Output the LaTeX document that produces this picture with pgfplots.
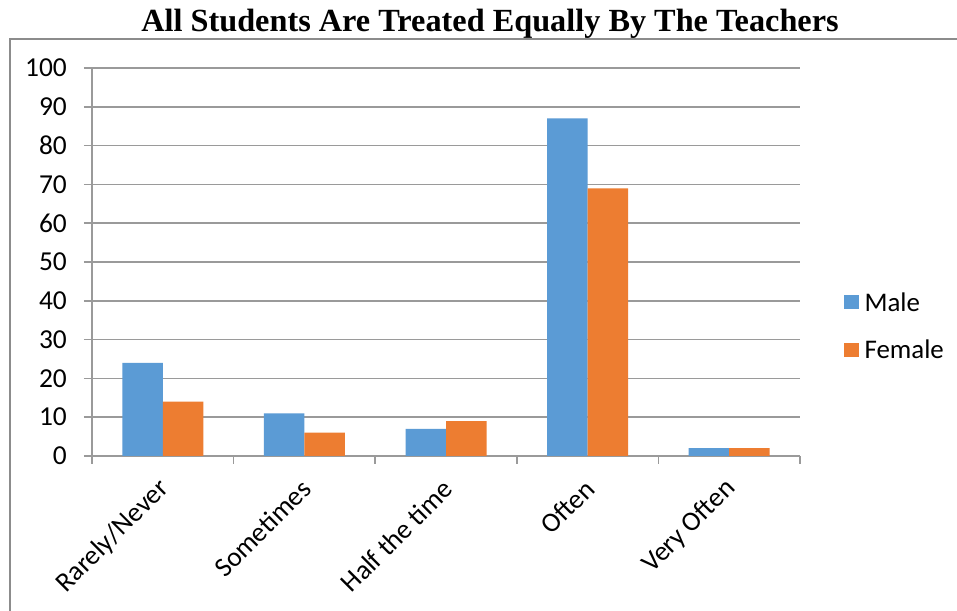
\documentclass[border=0pt]{standalone}
\usepackage{fontspec}
\setmainfont{Carlito}
\newfontfamily\titlefont{Liberation Serif}
\usepackage{pgfplots}
\pgfplotsset{compat=1.18}
\definecolor{maleblue}{HTML}{5B9BD5}
\definecolor{femaleorange}{HTML}{ED7D31}
\definecolor{gridgray}{HTML}{9A9A9A}
\definecolor{framegray}{HTML}{8C8C8C}

\begin{document}
\begin{tikzpicture}[x=1bp,y=1bp]
\path[use as bounding box, fill=white] (0,0) rectangle (957,611);
\draw[framegray, line width=1.5bp] (10,0) -- (10,572) -- (957,572);
\node[anchor=base, font=\titlefont\bfseries\fontsize{32.4}{38}\selectfont] at (490,579)
  {All Students Are Treated Equally By The Teachers};
\begin{axis}[
  at={(92bp,155bp)}, anchor=south west,
  scale only axis, width=708bp, height=388bp,
  ymin=0, ymax=100, ytick={0,10,...,100},
  xmin=-0.5, xmax=4.5, xtick={0,...,4},
  xticklabels={Rarely/Never,Sometimes,Half the time,Often,Very Often},
  minor xtick={-0.5,0.5,...,4.5},
  ybar=0pt, bar width=40.5bp,
  axis x line*=bottom, axis y line*=left,
  axis line style={gridgray, line width=1.5bp, -},
  ymajorgrids, grid style={gridgray, line width=1.5bp},
  tick align=outside, major tick length=8bp, minor tick length=8bp,
  tick style={gridgray, line width=1.5bp},
  major x tick style={draw=none},
  /pgf/number format/assume math mode=true,
  ticklabel style={font=\fontsize{27.5}{33}\selectfont},
  yticklabel style={inner sep=0pt, xshift=-17bp},
  xticklabel style={rotate=45, anchor=east, inner sep=0pt, xshift=-13bp, yshift=-16bp},
  legend style={at={(axis description cs:1.057,0.335)}, anchor=west,
    draw=none, fill=none, font=\fontsize{27}{32}\selectfont,
    row sep=23bp, legend cell align=left,
    /tikz/every odd column/.append style={column sep=4bp}},
  legend image code/.code={\fill[#1,draw=none] (0bp,-7bp) rectangle (15bp,7bp);},
]
\addplot[fill=maleblue, draw=none] coordinates {(0,24) (1,11) (2,7) (3,87) (4,2)};
\addplot[fill=femaleorange, draw=none] coordinates {(0,14) (1,6) (2,9) (3,69) (4,2)};
\legend{Male,Female}
\end{axis}
\end{tikzpicture}
\end{document}
